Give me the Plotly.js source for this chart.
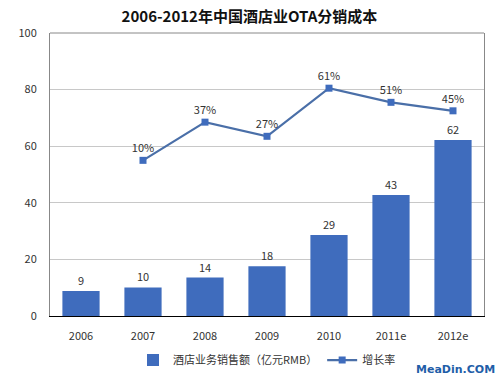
<!DOCTYPE html>
<html><head><meta charset="utf-8">
<script src="https://cdn.plot.ly/plotly-3.0.1.min.js"></script>
<style>body{margin:0;background:#fff}#chart{width:499px;height:377px}</style>
</head><body><div id="chart"></div>
<script>
const categories = ['2006','2007','2008','2009','2010','2011e','2012e'];
const salesValues = [8.8, 10.1, 13.6, 17.6, 28.6, 42.8, 62.2];
const growthValues = [null, 10, 37, 27, 61, 51, 45];
const yTicks = [0, 20, 40, 60, 80, 100];

const font = '"Noto Sans CJK SC", "Microsoft YaHei", sans-serif';

const traces = [
  {
    type: 'bar', name: '酒店业务销售额（亿元RMB）',
    x: categories, y: salesValues,
    marker: {color: '#3f6cbd'},
    texttemplate: '%{y:.0f}', textposition: 'outside', cliponaxis: false,
    textfont: {size: 11, color: '#333', family: font}
  },
  {
    type: 'scatter', mode: 'lines+markers+text', name: '增长率',
    x: categories, y: growthValues, yaxis: 'y2',
    line: {color: '#4a6fa8', width: 2.2},
    marker: {symbol: 'square', size: 7, color: '#3f6cbd'},
    text: growthValues.map(v => v == null ? '' : v + '%'),
    textposition: 'top center', cliponaxis: false,
    textfont: {size: 11, color: '#333', family: font}
  }
];

const layout = {
  width: 499, height: 377,
  margin: {l: 50, r: 15, t: 33, b: 61, autoexpand: false},
  paper_bgcolor: '#fff', plot_bgcolor: '#fff',
  font: {family: font, size: 11, color: '#333'},
  title: {text: '<b>2006-2012年中国酒店业OTA分销成本</b>', x: 0.5, xanchor: 'center', y: 0.955, yanchor: 'middle',
          font: {size: 15, color: '#111', family: font}},
  bargap: 0.4,
  showlegend: true,
  legend: {orientation: 'h', x: 0.5, xanchor: 'center', yref: 'container', y: 0.045, yanchor: 'middle',
           font: {size: 11, color: '#333', family: font}, itemwidth: 30, tracegroupgap: 0},
  xaxis: {
    type: 'category', showline: true, linecolor: '#000', linewidth: 1.2,
    ticks: '', tickfont: {size: 11, color: '#333'}, ticklabelstandoff: 10, showgrid: false
  },
  yaxis: {
    range: [0, 100], tickvals: yTicks, showline: true, linecolor: '#888', linewidth: 1,
    mirror: true, gridcolor: '#c8c8c8', gridwidth: 1, zeroline: false,
    ticks: '', tickfont: {size: 11, color: '#333'}, ticklabelstandoff: 10
  },
  yaxis2: {range: [-100, 100], overlaying: 'y', side: 'right', visible: false, showgrid: false},
  shapes: [
    {type: 'line', xref: 'paper', yref: 'paper', x0: 0, x1: 1, y0: 1, y1: 1, line: {color: '#888', width: 1}}
  ],
  annotations: [
    {text: '<b>MeaDin.COM</b>', xref: 'paper', yref: 'paper', x: 1.03, y: -0.19, xanchor: 'right', yanchor: 'middle',
     showarrow: false, font: {size: 11, color: '#1f5ea8', family: '"DejaVu Sans", sans-serif'}}
  ]
};

Plotly.newPlot('chart', traces, layout, {displayModeBar: false, staticPlot: true});
</script>
</body></html>
